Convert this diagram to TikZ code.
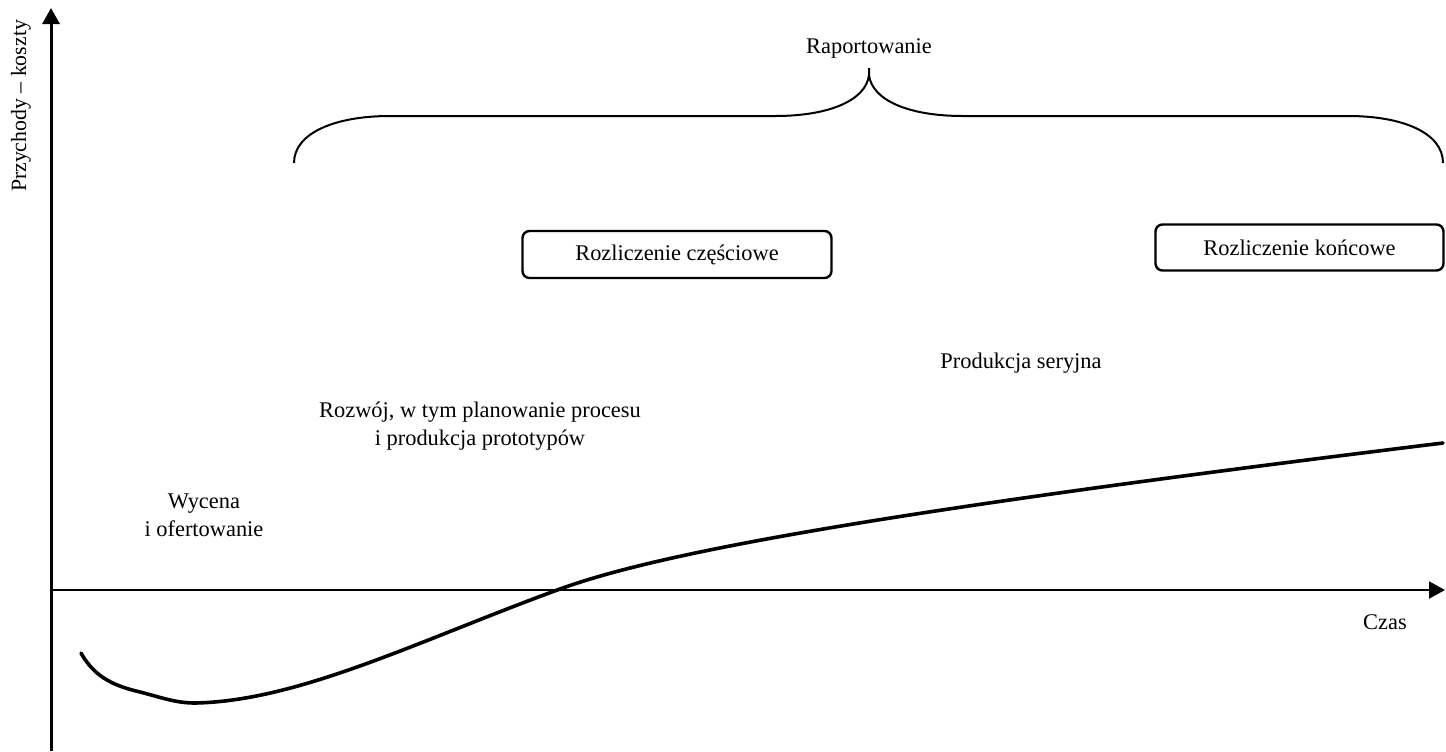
\documentclass[tikz,border=0pt]{standalone}
\usepackage{fontspec}
\setmainfont{Liberation Serif}
\usetikzlibrary{arrows.meta}
\begin{document}
\begin{tikzpicture}[x=0.5pt,y=-0.5pt,
  every node/.style={font=\fontsize{11.2pt}{14pt}\selectfont, inner sep=0pt},
  lbl/.style={align=center},
  rbox/.style={draw, line width=1.2pt, rounded corners=3.5pt},
  axis/.style={-{Triangle[length=8pt,width=8.5pt]}},
  brace/.style={line width=1pt},
  profit/.style={line width=1.8pt, line cap=round}]
\useasboundingbox (0,0) rectangle (1446,751);
% axes
\coordinate (ybot) at (51,751);
\coordinate (ytop) at (51,8);
\coordinate (xl) at (50,590);
\coordinate (xr) at (1445,590);
\draw[axis, line width=1.5pt] (ybot) -- (ytop);
\draw[axis, line width=1pt] (xl) -- (xr);
% labels
\node[rotate=90, font=\fontsize{10.9pt}{14pt}\selectfont] (ylab) at (21,106) {Przychody – koszty};
\node (czas) at (1385,622) {Czas};
\node (rap) at (869,48) {Raportowanie};
\node[rbox, minimum width=154.5pt, minimum height=23.5pt] (rc) at (677,254.5) {Rozliczenie częściowe};
\node[rbox, minimum width=144pt, minimum height=23pt] (rk) at (1299.5,247.5) {Rozliczenie końcowe};
\node (ps) at (1021,363) {Produkcja seryjna};
\node[lbl] (roz) at (480,426) {Rozwój, w tym planowanie procesu\\i produkcja prototypów};
\node[lbl] (wyc) at (204,515) {Wycena\\i ofertowanie};
% brace
\draw[brace] (294,163) .. controls (294,133) and (335,116) .. (390,116) -- (775,116)
  .. controls (830,116) and (866,100) .. (869,75) -- (869,68);
\draw[brace] (869,75) .. controls (872,100) and (908,116) .. (963,116) -- (1348,116)
  .. controls (1403,116) and (1443,133) .. (1443,163);
% curve
\coordinate (c0) at (81,653);
\coordinate (c1) at (140,692);
\coordinate (c2) at (195,703);
\coordinate (c3) at (560,589);
\coordinate (c4) at (1443,443);
\draw[profit] (c0) .. controls (95,678) and (115,686) .. (c1)
  .. controls (160,697) and (175,703) .. (c2)
  .. controls (300,701) and (420,640) .. (c3)
  .. controls (660,552.6) and (880,512) .. (c4);
\end{tikzpicture}
\end{document}
